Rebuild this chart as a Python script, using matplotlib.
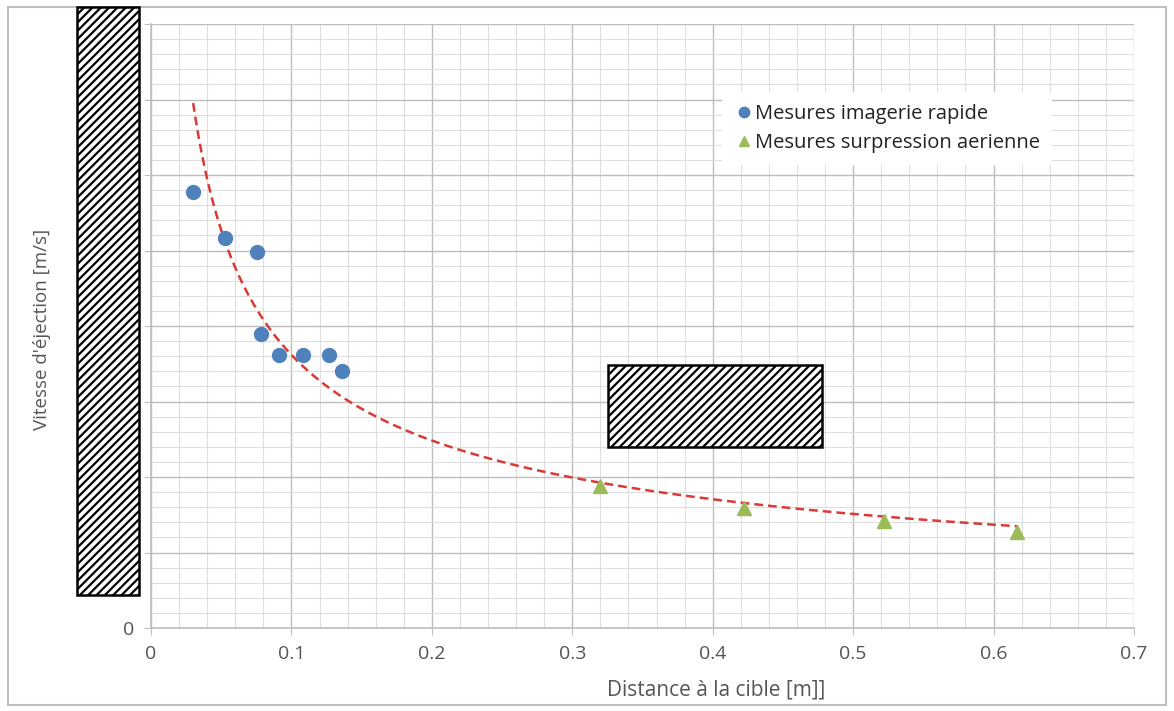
import numpy as np
import matplotlib
matplotlib.use("Agg")
import matplotlib.pyplot as plt
from matplotlib.patches import Rectangle
from matplotlib.ticker import MultipleLocator

# Data
imagerie_x = [0.030, 0.053, 0.0755, 0.078, 0.091, 0.108, 0.127, 0.136]
imagerie_y = [289, 258, 249, 195, 181, 181, 181, 170]
surpression_x = [0.320, 0.422, 0.522, 0.617]
surpression_y = [94, 79.5, 71, 63.6]
x_ticks = [0, 0.1, 0.2, 0.3, 0.4, 0.5, 0.6, 0.7]
x_tick_labels = ["0", "0.1", "0.2", "0.3", "0.4", "0.5", "0.6", "0.7"]
y_ticks = [0, 50, 100, 150, 200, 250, 300, 350, 400]
y_tick_labels = ["0", "50", "100", "150", "200", "250", "300", "350", "400"]

plt.rcParams['font.family'] = ['Open Sans', 'DejaVu Sans']
txt = '#555555'

fig = plt.figure(figsize=(11.74, 7.11), dpi=100)
W, H = 1174, 711
ax = fig.add_axes([151 / W, 1 - 628 / H, (1134 - 151) / W, (628 - 24) / H])

ax.set_xlim(0, 0.7)
ax.set_ylim(0, 400)
ax.set_xticks(x_ticks)
ax.set_xticklabels(x_tick_labels)
ax.set_yticks(y_ticks)
ax.set_yticklabels(y_tick_labels)
ax.xaxis.set_minor_locator(MultipleLocator(0.02))
ax.yaxis.set_minor_locator(MultipleLocator(10))
ax.grid(which='major', color='#bdbdbd', linewidth=1.0)
ax.grid(which='minor', color='#dedede', linewidth=0.8)
ax.set_axisbelow(True)
for s in ['top', 'right']:
    ax.spines[s].set_visible(False)
for s in ['left', 'bottom']:
    ax.spines[s].set_color('#bfbfbf')
    ax.spines[s].set_linewidth(1.2)
ax.tick_params(which='major', length=5, color='#bfbfbf', labelsize=14, labelcolor=txt, pad=7)
ax.tick_params(which='minor', length=0)

# Power-law trend fitted to all measures
all_x = np.array(imagerie_x + surpression_x)
all_y = np.array(imagerie_y + surpression_y)
b, loga = np.polyfit(np.log(all_x), np.log(all_y), 1)
tx = np.linspace(all_x.min(), all_x.max(), 300)
ax.plot(tx, np.exp(loga) * tx ** b, linestyle=(0, (3.5, 2)), color='#d93a35', linewidth=1.8, zorder=2)

ax.plot(imagerie_x, imagerie_y, 'o', color='#4f81bd', markersize=10, label='Mesures imagerie rapide', zorder=3)
ax.plot(surpression_x, surpression_y, '^', color='#9bbb59', markersize=10, label='Mesures surpression aerienne', zorder=3)

leg = ax.legend(loc='upper left', bbox_to_anchor=((712 - 151) / (1134 - 151), 1 - (82 - 24) / (628 - 24)),
                frameon=True, fontsize=14.5, handletextpad=0.05, handlelength=1.0, labelspacing=0.45,
                markerscale=0.75, borderpad=0.6)
leg.get_frame().set_edgecolor('none')
leg.get_frame().set_facecolor('white')
leg.get_frame().set_alpha(1)
for t in leg.get_texts():
    t.set_color('#222222')

fig.text(716 / W, 1 - 690 / H, 'Distance à la cible [m]]', ha='center', va='center', fontsize=15, color=txt)
fig.text(42 / W, 1 - 329 / H, "Vitesse d'éjection [m/s]", ha='center', va='center', rotation=90, fontsize=13.5, color=txt)

# Outer chart border
fig.patches.append(Rectangle((8 / W, 1 - 705 / H), (1166 - 8) / W, (705 - 7) / H, transform=fig.transFigure,
                             fill=False, edgecolor='#bfbfbf', linewidth=1.5, zorder=0))

# Hatched masking boxes
plt.rcParams['hatch.linewidth'] = 1.6
for (x0, y0, x1, y1) in [(77, 7, 139, 595), (608, 365, 822, 447)]:
    fig.patches.append(Rectangle((x0 / W, 1 - y1 / H), (x1 - x0) / W, (y1 - y0) / H, transform=fig.transFigure,
                                 facecolor='white', edgecolor='black', hatch='////', linewidth=1.8, zorder=5))

fig.savefig('out.png', dpi=100)
